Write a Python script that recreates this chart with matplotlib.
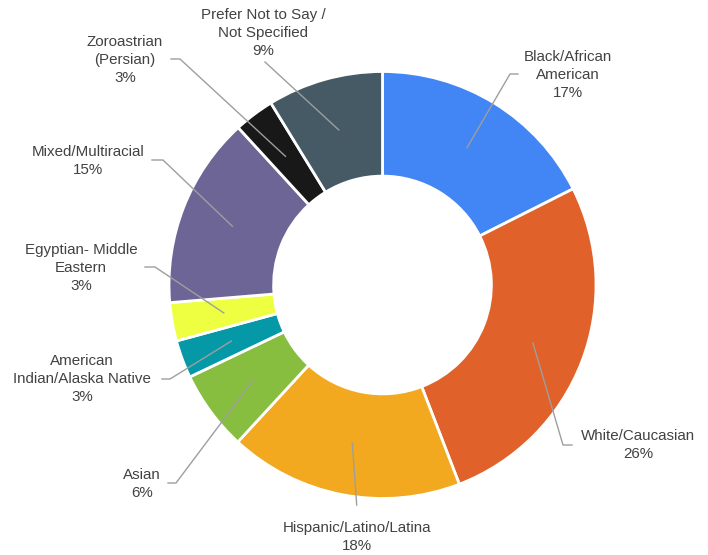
import numpy as np
import matplotlib
matplotlib.use('Agg')
import matplotlib.pyplot as plt

plt.rcParams['font.family'] = ['Liberation Sans', 'DejaVu Sans']

# data (clockwise from 12 o'clock)
labels = ['Black/African\nAmerican', 'White/Caucasian', 'Hispanic/Latino/Latina', 'Asian',
          'American\nIndian/Alaska Native', 'Egyptian- Middle\nEastern', 'Mixed/Multiracial',
          'Zoroastrian\n(Persian)', 'Prefer Not to Say /\nNot Specified']
shares = [17.55, 26.56, 17.7, 6.06, 2.86, 2.9, 14.5, 3.05, 8.75]
pct_text = ['17%', '26%', '18%', '6%', '3%', '3%', '15%', '3%', '9%']
colors = ['#4285F4', '#E0622A', '#F2A91F', '#88BE40', '#0598A7',
          '#EEFF41', '#6E6597', '#181818', '#455A64']

W, H = 708, 555
cx, cy, R = 382.5, 285, 213.5   # pixel coords, y down
ring = R * 0.49

def fy(y):
    return H - y

fig = plt.figure(figsize=(W / 100, H / 100), dpi=100)
ax = fig.add_axes([0, 0, 1, 1])
wedges, _ = ax.pie(shares, colors=colors, startangle=90, counterclock=False,
                   center=(cx, fy(cy)), radius=R,
                   wedgeprops=dict(width=ring, edgecolor='white', linewidth=2))

# label layout: elbow point, end point, text point (pixel coords)
lay = [
    ((510, 74), (518, 74), (568, 75)),
    ((563, 445), (572, 445), (638, 445)),
    ((356.7, 505), (356.7, 505), (357, 537)),
    ((176, 483), (168, 483), (142, 484)),
    ((170, 379), (162, 379), (82, 379)),
    ((155, 267), (145, 267), (81, 268)),
    ((163, 160), (152, 160), (88, 161)),
    ((180, 59), (171, 59), (125, 60)),
    ((265, 62), (265, 62), (263, 33)),
]

for w, lab, pc, (el, en, tp) in zip(wedges, labels, pct_text, lay):
    mid = np.deg2rad((w.theta1 + w.theta2) / 2)
    rm = R - ring / 2
    x0 = cx + rm * np.cos(mid)
    y0 = fy(cy) + rm * np.sin(mid)
    ax.plot([x0, el[0], en[0]], [y0, fy(el[1]), fy(en[1])], color='#9E9E9E', lw=1)
    ax.text(tp[0], fy(tp[1]), lab + '\n' + pc, ha='center', va='center', fontsize=10.9,
            color='#424242', linespacing=1.33, multialignment='center')

ax.set_xlim(0, W)
ax.set_ylim(0, H)
ax.set_aspect('equal')
ax.axis('off')
fig.savefig('out.png', dpi=100)
